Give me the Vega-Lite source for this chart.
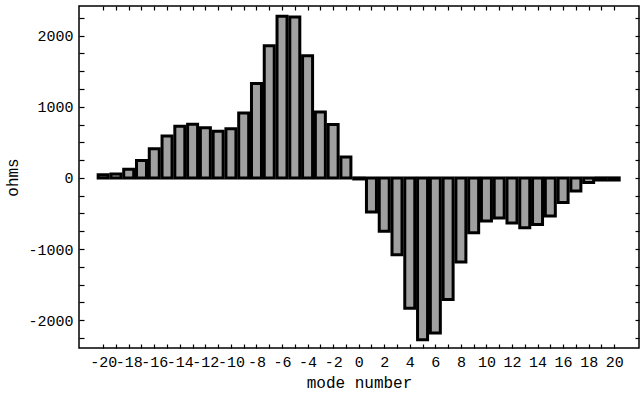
{
  "$schema": "https://vega.github.io/schema/vega-lite/v6.json",
  "width": 560,
  "height": 342,
  "autosize": {"type": "none"},
  "padding": {"left": 79, "top": 6, "right": 5, "bottom": 46},
  "background": "white",
  "config": {
    "view": {"stroke": "black", "strokeWidth": 1.5},
    "axis": {
      "labelFont": "Liberation Mono",
      "titleFont": "Liberation Mono",
      "labelFontSize": 15,
      "titleFontSize": 16,
      "titleFontWeight": "normal",
      "labelColor": "black",
      "titleColor": "black",
      "domain": false,
      "tickColor": "black",
      "tickWidth": 1.2,
      "grid": false,
      "labelOverlap": false,
      "labelFlush": false
    }
  },
  "layer": [
    {
      "mark": {"type": "rule", "color": "#666666", "strokeWidth": 1},
      "encoding": {
        "x": {
          "datum": -20.5,
          "type": "quantitative",
          "scale": {"domain": [-21.5, 21.55], "nice": false, "zero": false},
          "axis": {
            "orient": "top",
            "values": [-20,-19,-18,-17,-16,-15,-14,-13,-12,-11,-10,-9,-8,-7,-6,-5,-4,-3,-2,-1,0,1,2,3,4,5,6,7,8,9,10,11,12,13,14,15,16,17,18,19,20],
            "labels": false,
            "offset": -4,
            "tickSize": 4,
            "title": null
          }
        }
      }
    },
    {
      "mark": {"type": "rule", "color": "black", "strokeWidth": 1},
      "encoding": {
        "y": {
          "datum": 0,
          "type": "quantitative",
          "scale": {"domain": [-2390, 2415], "nice": false, "zero": false},
          "axis": {
            "orient": "right",
            "values": [-2250,-2000,-1750,-1500,-1250,-1000,-750,-500,-250,0,250,500,750,1000,1250,1500,1750,2000,2250],
            "labels": false,
            "offset": -4,
            "tickSize": 4,
            "title": null
          }
        }
      }
    },
    {
      "data": {
        "values": [
          {"mode": -20, "ohms": 45},
          {"mode": -19, "ohms": 55},
          {"mode": -18, "ohms": 120},
          {"mode": -17, "ohms": 245},
          {"mode": -16, "ohms": 410},
          {"mode": -15, "ohms": 590},
          {"mode": -14, "ohms": 725},
          {"mode": -13, "ohms": 755},
          {"mode": -12, "ohms": 705},
          {"mode": -11, "ohms": 655},
          {"mode": -10, "ohms": 690},
          {"mode": -9, "ohms": 910},
          {"mode": -8, "ohms": 1325},
          {"mode": -7, "ohms": 1855},
          {"mode": -6, "ohms": 2270},
          {"mode": -5, "ohms": 2260},
          {"mode": -4, "ohms": 1715},
          {"mode": -3, "ohms": 925},
          {"mode": -2, "ohms": 750},
          {"mode": -1, "ohms": 295},
          {"mode": 0, "ohms": -15},
          {"mode": 1, "ohms": -480},
          {"mode": 2, "ohms": -750},
          {"mode": 3, "ohms": -1080},
          {"mode": 4, "ohms": -1830},
          {"mode": 5, "ohms": -2275},
          {"mode": 6, "ohms": -2180},
          {"mode": 7, "ohms": -1710},
          {"mode": 8, "ohms": -1180},
          {"mode": 9, "ohms": -770},
          {"mode": 10, "ohms": -605},
          {"mode": 11, "ohms": -565},
          {"mode": 12, "ohms": -635},
          {"mode": 13, "ohms": -700},
          {"mode": 14, "ohms": -655},
          {"mode": 15, "ohms": -535},
          {"mode": 16, "ohms": -345},
          {"mode": 17, "ohms": -185},
          {"mode": 18, "ohms": -65},
          {"mode": 19, "ohms": -30},
          {"mode": 20, "ohms": -30}
        ]
      },
      "mark": {"type": "bar", "size": 10, "fill": "#a0a0a0", "stroke": "black", "strokeWidth": 3},
      "encoding": {
        "x": {
          "field": "mode",
          "type": "quantitative",
          "axis": {
            "orient": "bottom",
            "values": [-20,-19,-18,-17,-16,-15,-14,-13,-12,-11,-10,-9,-8,-7,-6,-5,-4,-3,-2,-1,0,1,2,3,4,5,6,7,8,9,10,11,12,13,14,15,16,17,18,19,20],
            "labelExpr": "datum.value % 2 === 0 ? '' + datum.value : ''",
            "offset": -4,
            "tickSize": 4,
            "labelPadding": 6,
            "title": "mode number",
            "titlePadding": 5
          }
        },
        "y": {
          "field": "ohms",
          "type": "quantitative",
          "axis": {
            "orient": "left",
            "values": [-2250,-2000,-1750,-1500,-1250,-1000,-750,-500,-250,0,250,500,750,1000,1250,1500,1750,2000,2250],
            "labelExpr": "datum.value % 1000 === 0 ? '' + datum.value : ''",
            "offset": -5,
            "tickSize": 5,
            "labelPadding": 6,
            "title": "ohms",
            "titlePadding": 7
          }
        }
      }
    }
  ],
  "resolve": {"axis": {"x": "independent", "y": "independent"}}
}
